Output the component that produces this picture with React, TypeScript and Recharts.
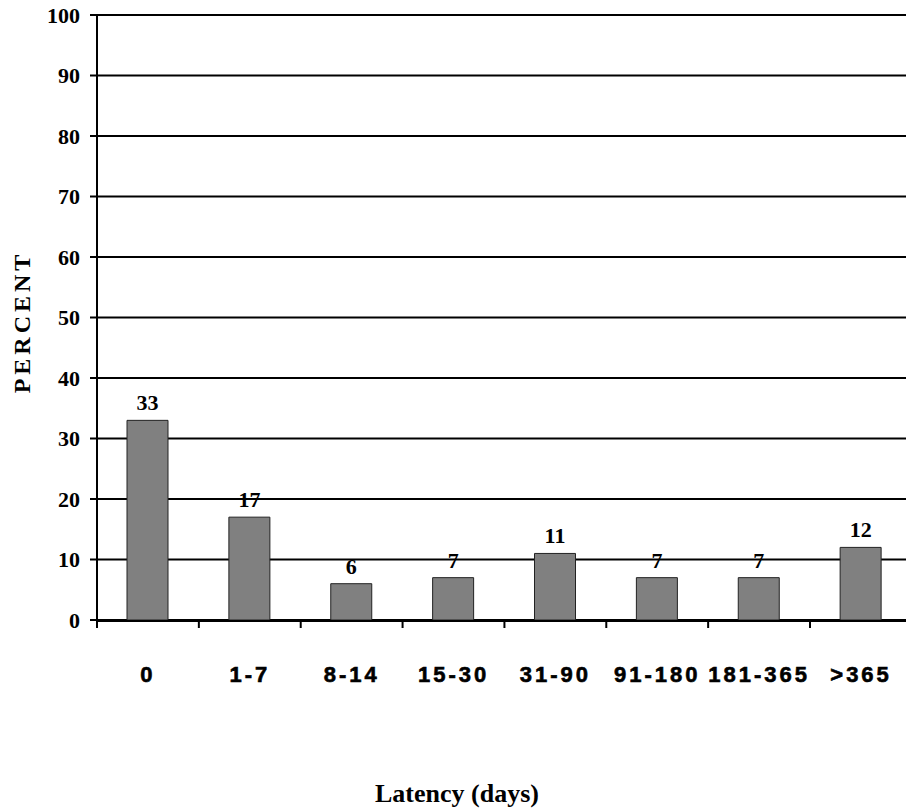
import { BarChart, Bar, XAxis, YAxis, CartesianGrid, LabelList } from 'recharts';

const categories = ['0', '1-7', '8-14', '15-30', '31-90', '91-180', '181-365', '>365'];
const percents = [33, 17, 6, 7, 11, 7, 7, 12];
const yTicks = [0, 10, 20, 30, 40, 50, 60, 70, 80, 90, 100];

const chartData = categories.map((c, i) => ({ latency: c, percent: percents[i] }));

const serif = '"Liberation Serif", "Times New Roman", serif';
const sans = '"Liberation Sans", Arial, sans-serif';

// x tick label in the wide bold sans of the original
function CategoryTick(props: any) {
  const { x, y, payload } = props;
  return (
    <text
      x={x}
      y={y + 54}
      textAnchor="middle"
      fontFamily={sans}
      fontWeight="bold"
      fontSize={22}
      letterSpacing={3}
      stroke="#000"
      strokeWidth={0.6}
      fill="#000"
    >
      {payload.value}
    </text>
  );
}

// boundary ticks only, no text
function EmptyTick() {
  return <g />;
}

function YTitle() {
  return (
    <text
      x={30}
      y={322}
      transform="rotate(-90 30 322)"
      textAnchor="middle"
      fontFamily={serif}
      fontWeight="bold"
      fontSize={24}
      letterSpacing={4}
      fill="#000"
    >
      PERCENT
    </text>
  );
}

function XTitle() {
  return (
    <text
      x={457}
      y={802}
      textAnchor="middle"
      fontFamily={serif}
      fontWeight="bold"
      fontSize={26}
      fill="#000"
    >
      Latency (days)
    </text>
  );
}

export default function App() {
  return (
    <div style={{ position: 'absolute', left: 0, top: 0, width: 906, height: 811, overflow: 'hidden', background: '#fff' }}>
      <BarChart
        width={912}
        height={811}
        data={chartData}
        margin={{ top: 15, right: 0, bottom: 0, left: 0 }}
      >
        <CartesianGrid horizontal={true} vertical={false} stroke="#000" strokeWidth={2} />
        <XAxis
          dataKey="latency"
          height={1}
          axisLine={false}
          tickLine={false}
          interval={0}
          tick={<CategoryTick />}
        />
        {/* point scale shifted so its ticks fall on the category boundaries */}
        <XAxis
          xAxisId="edges"
          dataKey="latency"
          scale="point"
          padding={{ left: 0, right: 102 }}
          interval={0}
          height={190}
          tick={<EmptyTick />}
          tickSize={7}
          axisLine={{ stroke: '#000', strokeWidth: 2 }}
          tickLine={{ stroke: '#000', strokeWidth: 2 }}
          label={<XTitle />}
        />
        <YAxis
          width={97}
          domain={[0, 100]}
          ticks={yTicks}
          interval={0}
          tickSize={7}
          tickMargin={10}
          axisLine={{ stroke: '#000', strokeWidth: 2 }}
          tickLine={{ stroke: '#000', strokeWidth: 2 }}
          tick={{ fontFamily: serif, fontWeight: 'bold', fontSize: 22, fill: '#000' }}
          label={<YTitle />}
        />
        <Bar
          dataKey="percent"
          fill="#808080"
          stroke="#222"
          strokeWidth={1}
          barSize={41}
          isAnimationActive={false}
        >
          <LabelList
            dataKey="percent"
            position="top"
            offset={10}
            fontFamily={serif}
            fontWeight="bold"
            fontSize={22}
            fill="#000"
          />
        </Bar>
      </BarChart>
    </div>
  );
}
